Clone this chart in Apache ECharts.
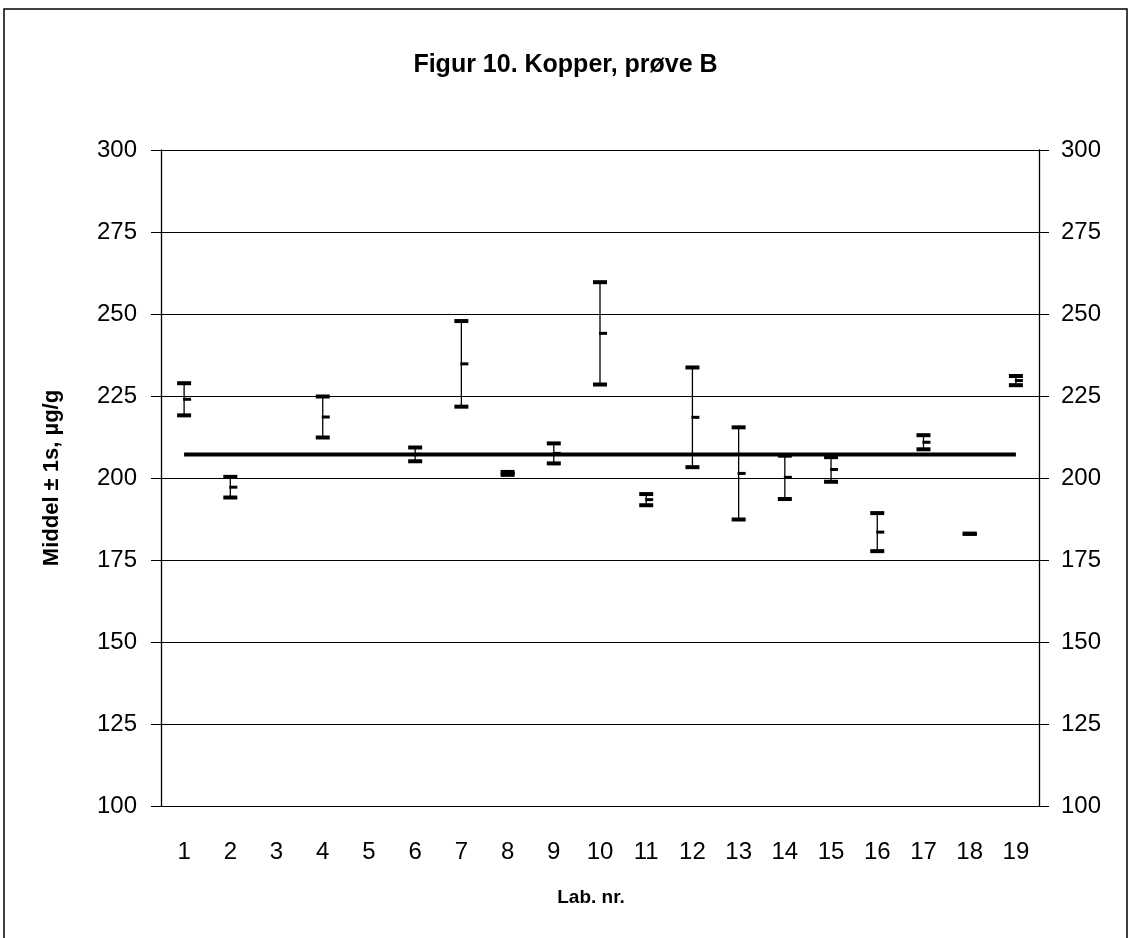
<!DOCTYPE html>
<html>
<head>
<meta charset="utf-8">
<script src="https://cdn.jsdelivr.net/npm/echarts@6/dist/echarts.min.js"></script>
<style>
  html, body { margin: 0; padding: 0; background: #fff; }
  #chart { width: 1131px; height: 938px; }
</style>
</head>
<body>
<div id="chart"></div>
<script>
// Lab numbers on the x axis
var labs = ['1','2','3','4','5','6','7','8','9','10','11','12','13','14','15','16','17','18','19'];
// mean per lab (null = no result)
var means = [224.0, 197.2, null, 218.6, null, 207.2, 234.8, 201.4, 207.5, 244.1, 193.4, 218.5, 201.4, 200.2, 202.6, 183.5, 210.9, 183.0, 229.7];
// one standard deviation per lab
var sds = [4.9, 3.15, null, 6.25, null, 2.1, 13.05, 0.45, 3.05, 15.6, 1.7, 15.2, 14.05, 6.6, 3.75, 5.8, 2.15, 0, 1.4];
// assigned value (horizontal line)
var refValue = 207.2;
var yTicks = { min: 100, max: 300, step: 25 };

var font = 'Liberation Sans, Arial, sans-serif';

var barData = [];
for (var i = 0; i < labs.length; i++) {
  if (means[i] === null) continue;
  barData.push([i, means[i] - sds[i], means[i] + sds[i], means[i]]);
}
var refData = labs.map(function () { return refValue; });

function renderBar(params, api) {
  var lo = api.coord([api.value(0), api.value(1)]);
  var hi = api.coord([api.value(0), api.value(2)]);
  var mid = api.coord([api.value(0), api.value(3)]);
  var x = lo[0];
  var black = { fill: '#000' };
  return {
    type: 'group',
    children: [
      { type: 'line', shape: { x1: x, y1: hi[1], x2: x, y2: lo[1] }, style: { stroke: '#000', lineWidth: 1.3 } },
      { type: 'rect', shape: { x: x - 7, y: hi[1] - 2, width: 14, height: 4 }, style: black },
      { type: 'rect', shape: { x: x - 7, y: lo[1] - 2, width: 14, height: 4 }, style: black },
      { type: 'rect', shape: { x: x - 1, y: mid[1] - 1.5, width: 8, height: 3 }, style: black }
    ]
  };
}

var myChart = echarts.init(document.getElementById('chart'));

var yBase = {
  type: 'value',
  min: yTicks.min,
  max: yTicks.max,
  interval: yTicks.step
};
var gridBox = { left: 161, right: 92, top: 150, bottom: 132 };

var option = {
  backgroundColor: '#fff',
  animation: false,
  title: {
    text: 'Figur 10. Kopper, prøve B',
    left: 'center',
    top: 48,
    textStyle: { fontFamily: font, fontSize: 25, fontWeight: 'bold', color: '#000' }
  },
  graphic: [
    { type: 'rect', shape: { x: 4, y: 9, width: 1123, height: 940 }, style: { fill: null, stroke: '#000', lineWidth: 1.5 }, silent: true }
  ],
  // second grid only carries the inward half of the crossing ticks
  grid: [Object.assign({}, gridBox), Object.assign({}, gridBox)],
  xAxis: [
    {
      type: 'category',
      gridIndex: 0,
      data: labs,
      boundaryGap: true,
      position: 'bottom',
      name: 'Lab. nr.',
      nameLocation: 'middle',
      nameGap: 82,
      nameTextStyle: { fontFamily: font, fontSize: 19, fontWeight: 'bold', color: '#000', padding: [0, 18, 0, 0] },
      axisLine: { lineStyle: { color: '#000', width: 1 } },
      axisTick: { interval: 0, length: 10, lineStyle: { color: '#000' } },
      axisLabel: { interval: 0, margin: 34, fontFamily: font, fontSize: 24, color: '#000' },
      splitLine: { show: false }
    },
    {
      type: 'category',
      gridIndex: 1,
      data: labs,
      boundaryGap: true,
      position: 'bottom',
      axisLine: { show: false },
      axisTick: { interval: 0, inside: true, length: 10, lineStyle: { color: '#000' } },
      axisLabel: { show: false },
      splitLine: { show: false }
    }
  ],
  yAxis: [
    Object.assign({}, yBase, {
      gridIndex: 0,
      position: 'left',
      name: 'Middel ± 1s, µg/g',
      nameLocation: 'middle',
      nameGap: 98,
      nameTextStyle: { fontFamily: font, fontSize: 22, fontWeight: 'bold', color: '#000' },
      axisLine: { show: true, lineStyle: { color: '#000', width: 1.3 } },
      axisTick: { show: true, length: 10, lineStyle: { color: '#000' } },
      axisLabel: { margin: 24, fontFamily: font, fontSize: 24, color: '#000' },
      splitLine: { show: true, lineStyle: { color: '#000', width: 1 } }
    }),
    Object.assign({}, yBase, {
      gridIndex: 0,
      position: 'right',
      axisLine: { show: true, lineStyle: { color: '#000', width: 1.3 } },
      axisTick: { show: true, length: 10, lineStyle: { color: '#000' } },
      axisLabel: { margin: 22, fontFamily: font, fontSize: 24, color: '#000' },
      splitLine: { show: false }
    }),
    Object.assign({}, yBase, {
      gridIndex: 1,
      position: 'left',
      axisLine: { show: false },
      axisTick: { show: true, inside: true, length: 10, lineStyle: { color: '#000' } },
      axisLabel: { show: false },
      splitLine: { show: false }
    })
  ],
  series: [
    {
      type: 'line',
      xAxisIndex: 0,
      yAxisIndex: 0,
      data: refData,
      symbol: 'none',
      lineStyle: { color: '#000', width: 4 },
      z: 3
    },
    {
      type: 'custom',
      xAxisIndex: 0,
      yAxisIndex: 0,
      data: barData,
      renderItem: renderBar,
      encode: { x: 0, y: [1, 2, 3] },
      z: 4
    }
  ]
};

myChart.setOption(option);
</script>
</body>
</html>
